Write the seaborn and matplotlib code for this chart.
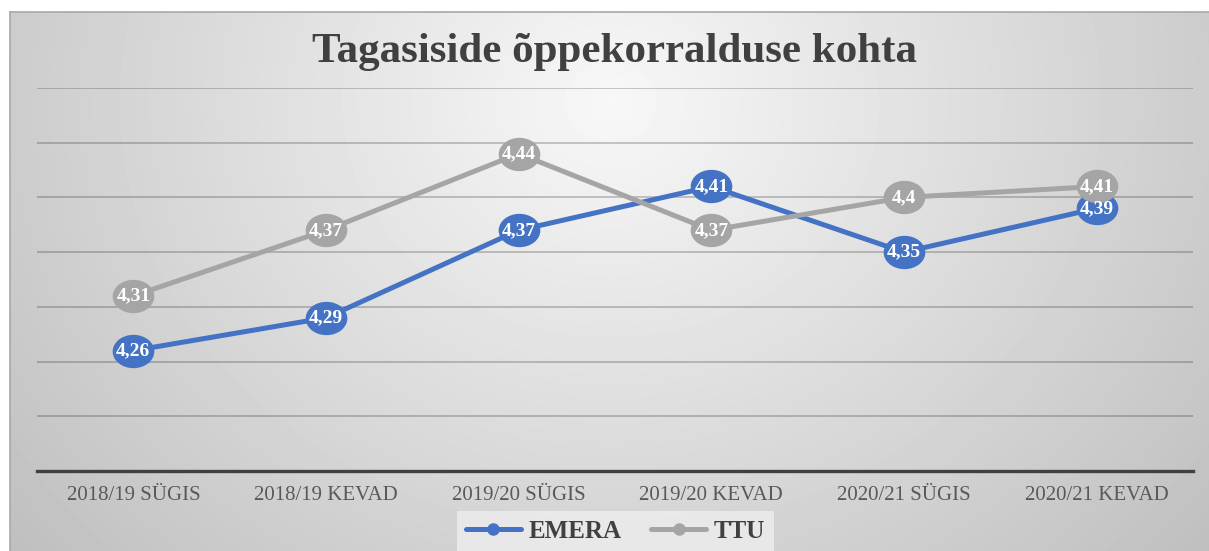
import numpy as np
import pandas as pd
import seaborn as sns
import matplotlib.pyplot as plt
from matplotlib.path import Path
from matplotlib.lines import Line2D

# Data
semesters = ["2018/19 SÜGIS", "2018/19 KEVAD", "2019/20 SÜGIS",
             "2019/20 KEVAD", "2020/21 SÜGIS", "2020/21 KEVAD"]
emera = [4.26, 4.29, 4.37, 4.41, 4.35, 4.39]
ttu = [4.31, 4.37, 4.44, 4.37, 4.40, 4.41]
schools = ["EMERA", "TTU"]
colors = {"EMERA": "#4472C4", "TTU": "#A5A5A5"}

df = pd.DataFrame({
    "semester": semesters * 2,
    "score": emera + ttu,
    "school": ["EMERA"] * len(emera) + ["TTU"] * len(ttu),
})

sns.set_theme(style="white")
plt.rcParams["font.family"] = ["Liberation Serif", "DejaVu Serif"]

fig = plt.figure(figsize=(12.09, 5.51), dpi=100)
fig.patch.set_facecolor("white")

# Gradient background of the chart area
bg = fig.add_axes([10 / 1209, 0, 1199 / 1209, 539 / 551], zorder=-10)
h, w = 539, 1199
yy, xx = np.mgrid[0:h, 0:w]
r = np.sqrt(((xx - 600) / 640) ** 2 + ((yy - 90) / 560) ** 2)
shade = np.clip(0.97 - 0.18 * r, 0.7, 1)
bg.imshow(shade, cmap="gray", vmin=0, vmax=1, aspect="auto",
          extent=(0, w, h, 0), interpolation="bilinear")
bg.set_xticks([])
bg.set_yticks([])
for side in ["right", "bottom"]:
    bg.spines[side].set_visible(False)
for side in ["top", "left"]:
    bg.spines[side].set_color("#a8a8a8")
    bg.spines[side].set_linewidth(1.2)

# Main plot
ax = fig.add_axes([37 / 1209, 80 / 551, 1156 / 1209, 383 / 551])
ax.set_facecolor("none")

ell = Path.unit_circle()
ellipse = Path(ell.vertices * np.array([1.25, 1.0]), ell.codes)

sns.lineplot(
    data=df, x="semester", y="score", hue="school",
    hue_order=schools, palette=colors, sort=False,
    marker=ellipse, markersize=30, markeredgewidth=0,
    linewidth=3.6, legend=False, ax=ax, zorder=3
)

# Data labels
for name, vals in [("EMERA", emera), ("TTU", ttu)]:
    for i, v in enumerate(vals):
        ax.text(i, v, f"{v:g}".replace(".", ","), ha="center", va="center",
                color="white", fontsize=14, fontweight="bold", zorder=5)

ax.set_xlim(-0.5, len(semesters) - 0.5)
ax.set_ylim(4.15, 4.5)
ax.set_yticks(np.arange(4.2, 4.51, 0.05))
ax.yaxis.grid(True, color="black", alpha=0.22, linewidth=1.3)
ax.set_axisbelow(True)
ax.tick_params(axis="y", left=False, labelleft=False)
ax.tick_params(axis="x", bottom=False, pad=5, labelsize=15, labelcolor="#595959")
for side in ["top", "left", "right"]:
    ax.spines[side].set_visible(False)
ax.spines["bottom"].set_color("#404040")
ax.spines["bottom"].set_linewidth(2.4)
ax.set_xlabel("")
ax.set_ylabel("")

fig.text(615 / 1209, 0.905, "Tagasiside õppekorralduse kohta", ha="center",
         va="center", fontsize=31, fontweight="bold", color="#404040")

handles = [Line2D([0], [0], color=colors[s], linewidth=3.6, marker="o",
                  markersize=8) for s in schools]
leg = fig.legend(handles, schools, loc="center", bbox_to_anchor=(0.509, 0.036),
                 ncol=2, frameon=True, fontsize=18, handlelength=2.2,
                 columnspacing=1.2, handletextpad=0.3, borderpad=0.25)
leg.get_frame().set_facecolor("#eeeeee")
leg.get_frame().set_edgecolor("none")
leg.get_frame().set_alpha(0.8)
leg.get_frame().set_boxstyle("square", pad=0.1)
for t in leg.get_texts():
    t.set_fontweight("bold")
    t.set_color("#404040")

fig.savefig("out.png", dpi=100)
